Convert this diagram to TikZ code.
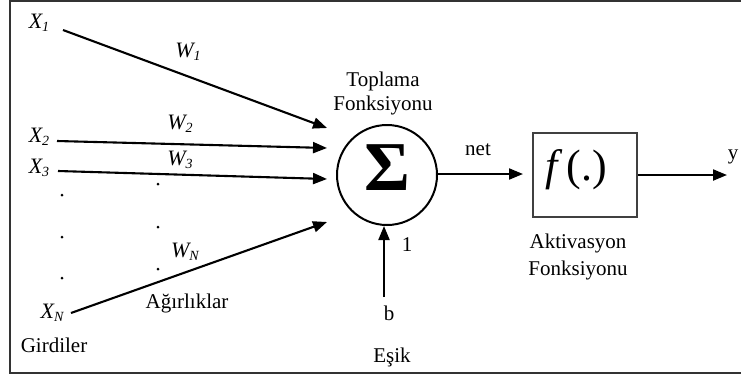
\documentclass[tikz,border=0pt]{standalone}
\usepackage{fontspec}
\setmainfont{Liberation Serif}
\usetikzlibrary{arrows.meta}
\tikzset{
  arr/.style={line width=2.1pt,-{Triangle[length=14pt,width=11pt]}},
  lbl/.style={inner sep=0pt,font=\fontsize{21}{23}\selectfont},
  var/.style={inner sep=0pt,font=\fontsize{22}{24}\selectfont\itshape},
  dotmark/.style={circle,fill=black,inner sep=0pt,minimum size=3pt}
}
\newcommand{\mysub}[1]{\raisebox{-3.5pt}{\fontsize{14}{15}\selectfont #1}}
\begin{document}
\begin{tikzpicture}[x=1pt,y=-1pt]
\useasboundingbox (0,0) rectangle (741,378);
% frame
\draw[line width=2pt,black!80] (741,1) -- (10,1) -- (10,373) -- (741,373);

% inputs
\node[var] (x1) at (39,23) {X\mysub{1}};
\node[var] (x2) at (39,137) {X\mysub{2}};
\node[var] (x3) at (39,168) {X\mysub{3}};
\node[var] (xn) at (52,313) {X\mysub{N}};
\coordinate (s1) at (63,30);
\coordinate (s2) at (57,141);
\coordinate (s3) at (58,171);
\coordinate (sn) at (71,313);
\coordinate (t1) at (327,128);
\coordinate (t2) at (327,148);
\coordinate (t3) at (327,179);
\coordinate (tn) at (327,222);
\draw[arr] (s1) -- (t1);
\draw[arr] (s2) -- (t2);
\draw[arr] (s3) -- (t3);
\draw[arr] (sn) -- (tn);

% weights
\node[var] (w1) at (188,52) {W\mysub{1}};
\node[var] (w2) at (180,124) {W\mysub{2}};
\node[var] (w3) at (180,160) {W\mysub{3}};
\node[var] (wn) at (185,252) {W\mysub{N}};

% dots
\node[dotmark] (d1) at (62,195) {};
\node[dotmark] (d2) at (62,237) {};
\node[dotmark] (d3) at (62,278) {};
\node[dotmark] (d4) at (158,184) {};
\node[dotmark] (d5) at (158,227) {};
\node[dotmark] (d6) at (158,269) {};

\node[lbl] (agr) at (187,303) {Ağırlıklar};
\node[lbl] (gir) at (54,345) {Girdiler};

% summation
\node[lbl] (top) at (383,81) {Toplama};
\node[lbl] (topf) at (383,105) {Fonksiyonu};
\node[circle,draw,line width=2pt,minimum size=100pt,inner sep=0pt] (sum) at (387,175) {};
\node[inner sep=0pt,font=\fontsize{70}{70}\selectfont\bfseries] (sig) at (387,168) {Σ};

% bias
\coordinate (bs) at (384,297);
\draw[arr] (bs) -- (sum.south -| bs);
\node[lbl] (one) at (407,245) {1};
\node[lbl] (b) at (389,313) {b};
\node[lbl] (esik) at (392,357) {Eşik};

% activation
\node[draw,line width=1.6pt,black!75,minimum width=104pt,minimum height=84pt,inner sep=0pt] (act) at (585,175) {};
\node[inner sep=0pt,font=\fontsize{44}{44}\selectfont] (f) at (576,170) {\textit{f}\hspace{4pt}(.)};
\coordinate (nt) at (523,174);
\draw[arr] (sum.east |- nt) -- (nt);
\node[lbl] (net) at (478,150) {net};
\coordinate (yt) at (727,175);
\draw[arr] (act.east |- yt) -- (yt);
\node[lbl] (y) at (733,157) {y};
\node[lbl] (akt) at (578,243) {Aktivasyon};
\node[lbl] (aktf) at (578,270) {Fonksiyonu};
\end{tikzpicture}
\end{document}
